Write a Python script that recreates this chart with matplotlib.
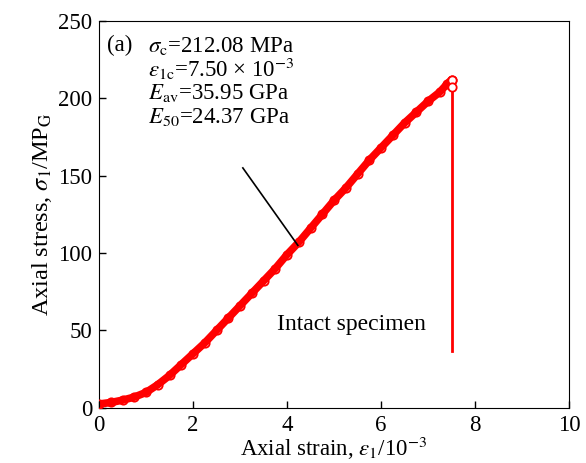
import numpy as np
import matplotlib.pyplot as plt

plt.rcParams['font.family'] = ['Liberation Serif', 'DejaVu Serif']
plt.rcParams['mathtext.fontset'] = 'stix'
plt.rcParams['font.size'] = 17

# datos (deformacion axial en 10^-3, tension en MPa)
strain = [0.00, 0.25, 0.50, 0.75, 1.00, 1.25, 1.50, 1.75, 2.00, 2.25, 2.50,
          2.75, 3.00, 3.25, 3.50, 3.75, 4.00, 4.25, 4.50, 4.75, 5.00, 5.25,
          5.50, 5.75, 6.00, 6.25, 6.50, 6.75, 7.00, 7.25, 7.40, 7.50]
stress = [2.5, 3.5, 5, 7, 10, 15, 21, 28, 35, 42, 50,
          58, 66, 74, 82, 90, 99, 107, 116, 125, 134, 142,
          151, 160, 168, 176, 184, 191, 198, 204, 209, 212]

peak_strain = 7.50
peak_stress = [212, 207]
drop_end = 37

arrow_start = (3.06, 155)
arrow_end = (4.23, 105)

fig = plt.figure(figsize=(5.86, 4.63), dpi=100)
ax = fig.add_axes([0.169, 0.119, 0.802, 0.836])

# curva
ax.plot(strain, stress, color='red', lw=5.5, solid_capstyle='round', zorder=2)
ax.plot(strain, stress, 'o', mfc='none', mec='red', mew=1.3, ms=6, zorder=3)
ax.plot([peak_strain] * 2, peak_stress, 'o', mfc='white', mec='red', mew=1.3, ms=6, zorder=4)
ax.plot([peak_strain, peak_strain], [peak_stress[1], drop_end], color='red', lw=2, zorder=3)

# flecha
ax.plot([arrow_start[0], arrow_end[0]], [arrow_start[1], arrow_end[1]], color='black', lw=1.2, zorder=5)

ax.text(3.79, 54, 'Intact specimen', va='center', ha='left')

fs_ann = 16.5
ax.text(0.17, 234, '(a)', va='center', ha='left', fontsize=fs_ann)
ax.text(1.04, 234, r'$\sigma_\mathrm{c}$=212.08 MPa', va='center', ha='left', fontsize=fs_ann)
ax.text(1.04, 219, r'$\varepsilon_\mathrm{1c}$=7.50 × 10$^{-3}$', va='center', ha='left', fontsize=fs_ann)
ax.text(1.04, 203.5, r'$E_\mathrm{av}$=35.95 GPa', va='center', ha='left', fontsize=fs_ann)
ax.text(1.04, 188, r'$E_{50}$=24.37 GPa', va='center', ha='left', fontsize=fs_ann)

# ejes
ax.set_xlim(0, 10)
ax.set_ylim(0, 250)
ax.set_xticks([0, 2, 4, 6, 8, 10])
ax.set_yticks([0, 50, 100, 150, 200, 250])
ax.tick_params(direction='in', length=5, width=1, labelsize=16.5, pad=5)
ax.set_xlabel(r'Axial strain, $\varepsilon_1$/10$^{-3}$', fontsize=16.5, labelpad=-1)
ax.set_ylabel(r'Axial stress, $\sigma_1$/MP$_\mathrm{G}$', fontsize=17.5, labelpad=3)

plt.savefig('out.png', dpi=100)
